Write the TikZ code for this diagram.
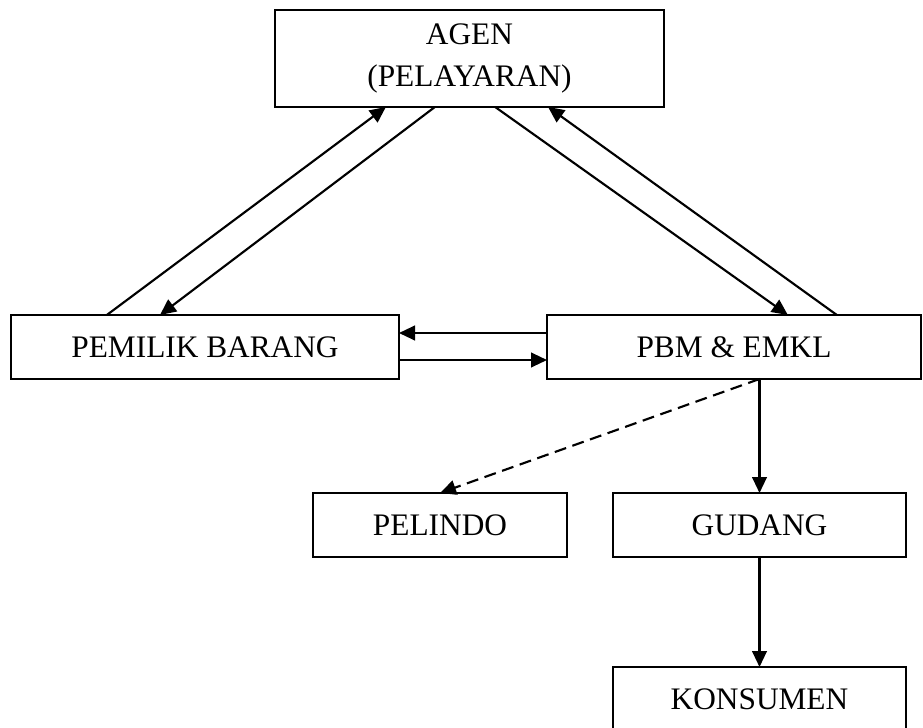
\documentclass[tikz,border=0pt]{standalone}
\usepackage{fontspec}
\setmainfont{Liberation Serif}
\usetikzlibrary{arrows.meta,calc}
\begin{document}
\begin{tikzpicture}[x=0.75pt,y=0.75pt,
  box/.style={draw,line width=1.2pt,rectangle,inner sep=0pt,outer sep=0pt,
    minimum height=48pt,font=\fontsize{23.5}{32}\selectfont,align=center},
  conn/.style={line width=1.6pt,-{Triangle[length=12pt,width=11pt]}},
  dconn/.style={conn,dash pattern=on 9pt off 5pt}]
\useasboundingbox (0,0) rectangle (923,-727);
\node[box,minimum width=291.75pt,minimum height=72.75pt] (agen) at (469.5,-58.5) {AGEN\\(PELAYARAN)};
\node[box,minimum width=291pt] (pem) at (205,-347) {PEMILIK BARANG};
\node[box,minimum width=280.5pt] (pbm) at (734,-347) {PBM \& EMKL};
\node[box,minimum width=190.5pt] (pel) at (440,-525) {PELINDO};
\node[box,minimum width=219.75pt] (gud) at (759.5,-525) {GUDANG};
\node[box,minimum width=219.75pt] (kon) at (759.5,-699) {KONSUMEN};
% PEMILIK <-> AGEN
\draw[conn] ($(pem.north west)!0.247!(pem.north east)$) -- ($(agen.south west)!0.285!(agen.south east)$);
\draw[conn] ($(agen.south west)!0.411!(agen.south east)$) -- ($(pem.north west)!0.384!(pem.north east)$);
% AGEN <-> PBM
\draw[conn] ($(agen.south west)!0.566!(agen.south east)$) -- ($(pbm.north west)!0.644!(pbm.north east)$);
\draw[conn] ($(pbm.north west)!0.775!(pbm.north east)$) -- ($(agen.south west)!0.702!(agen.south east)$);
% PEMILIK <-> PBM
\draw[conn] ($(pbm.west)+(0,14)$) -- ($(pem.east)+(0,14)$);
\draw[conn] ($(pem.east)+(0,-13)$) -- ($(pbm.west)+(0,-13)$);
% PBM -> PELINDO, GUDANG
\coordinate (pbmout) at (gud.north |- pbm.south);
\draw[dconn] (pbmout) -- (pel.north);
\draw[conn] (pbmout) -- (gud.north);
\draw[conn] (gud.south) -- (kon.north);
\end{tikzpicture}
\end{document}
